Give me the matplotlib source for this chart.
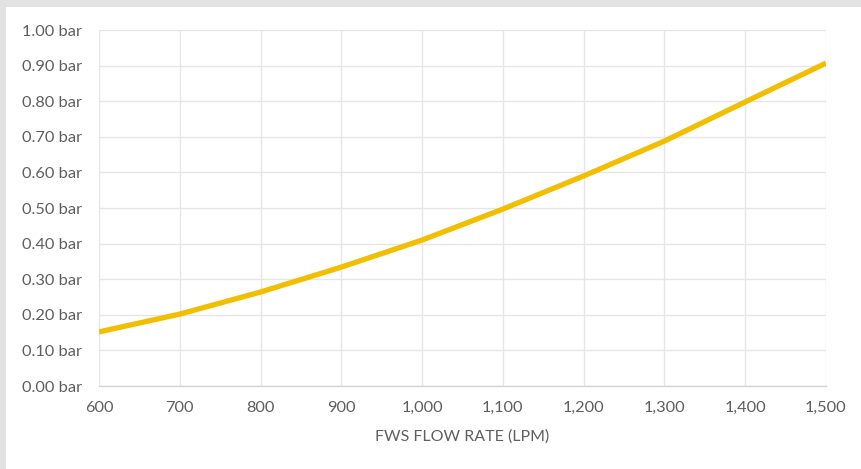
import matplotlib.pyplot as plt
from matplotlib.patches import Rectangle
from matplotlib.ticker import FuncFormatter, MultipleLocator

# FWS flow rate (LPM) vs pressure loss (bar)
flow_lpm = [600, 700, 800, 900, 1000, 1100, 1200, 1300, 1400, 1500]
pressure_bar = [0.152, 0.202, 0.264, 0.334, 0.410, 0.497, 0.590, 0.688, 0.798, 0.907]

text_color = '#5F5F5F'
grid_color = '#E6E6E6'
line_color = '#F2BE00'

plt.rcParams['font.family'] = ['Lato', 'DejaVu Sans']

fig = plt.figure(figsize=(8.62, 4.69), dpi=100)
fig.patch.set_facecolor('white')

# grey frame strips along the top and left edges
fig.add_artist(Rectangle((0, 1 - 7 / 469), 1, 7 / 469, transform=fig.transFigure,
                         facecolor='#E2E2E2', edgecolor='none'))
fig.add_artist(Rectangle((0, 0), 6 / 862, 1, transform=fig.transFigure,
                         facecolor='#E2E2E2', edgecolor='none'))

ax = fig.add_axes([99 / 862, 1 - 386 / 469, (826 - 99) / 862, (386 - 30) / 469])
ax.plot(flow_lpm, pressure_bar, color=line_color, lw=3.8, solid_capstyle='butt', zorder=3)

ax.set_xlim(600, 1500)
ax.set_ylim(0, 1.0)
ax.xaxis.set_major_locator(MultipleLocator(100))
ax.yaxis.set_major_locator(MultipleLocator(0.1))
ax.xaxis.set_major_formatter(FuncFormatter(lambda v, p: f'{int(v):,}'))
ax.yaxis.set_major_formatter(FuncFormatter(lambda v, p: f'{v:.2f} bar'))

ax.grid(True, color=grid_color, lw=1.0)
ax.set_axisbelow(True)
for side in ['top', 'right', 'left']:
    ax.spines[side].set_visible(False)
ax.spines['bottom'].set_color('#D4D4D4')
ax.spines['bottom'].set_linewidth(1.0)

ax.tick_params(length=0, labelsize=11.8, labelcolor=text_color)
ax.tick_params(axis='x', pad=11)
ax.tick_params(axis='y', pad=12.5)

ax.set_xlabel('FWS FLOW RATE (LPM)', fontsize=11.5, color=text_color, labelpad=10)

fig.savefig('out.png', dpi=100)
